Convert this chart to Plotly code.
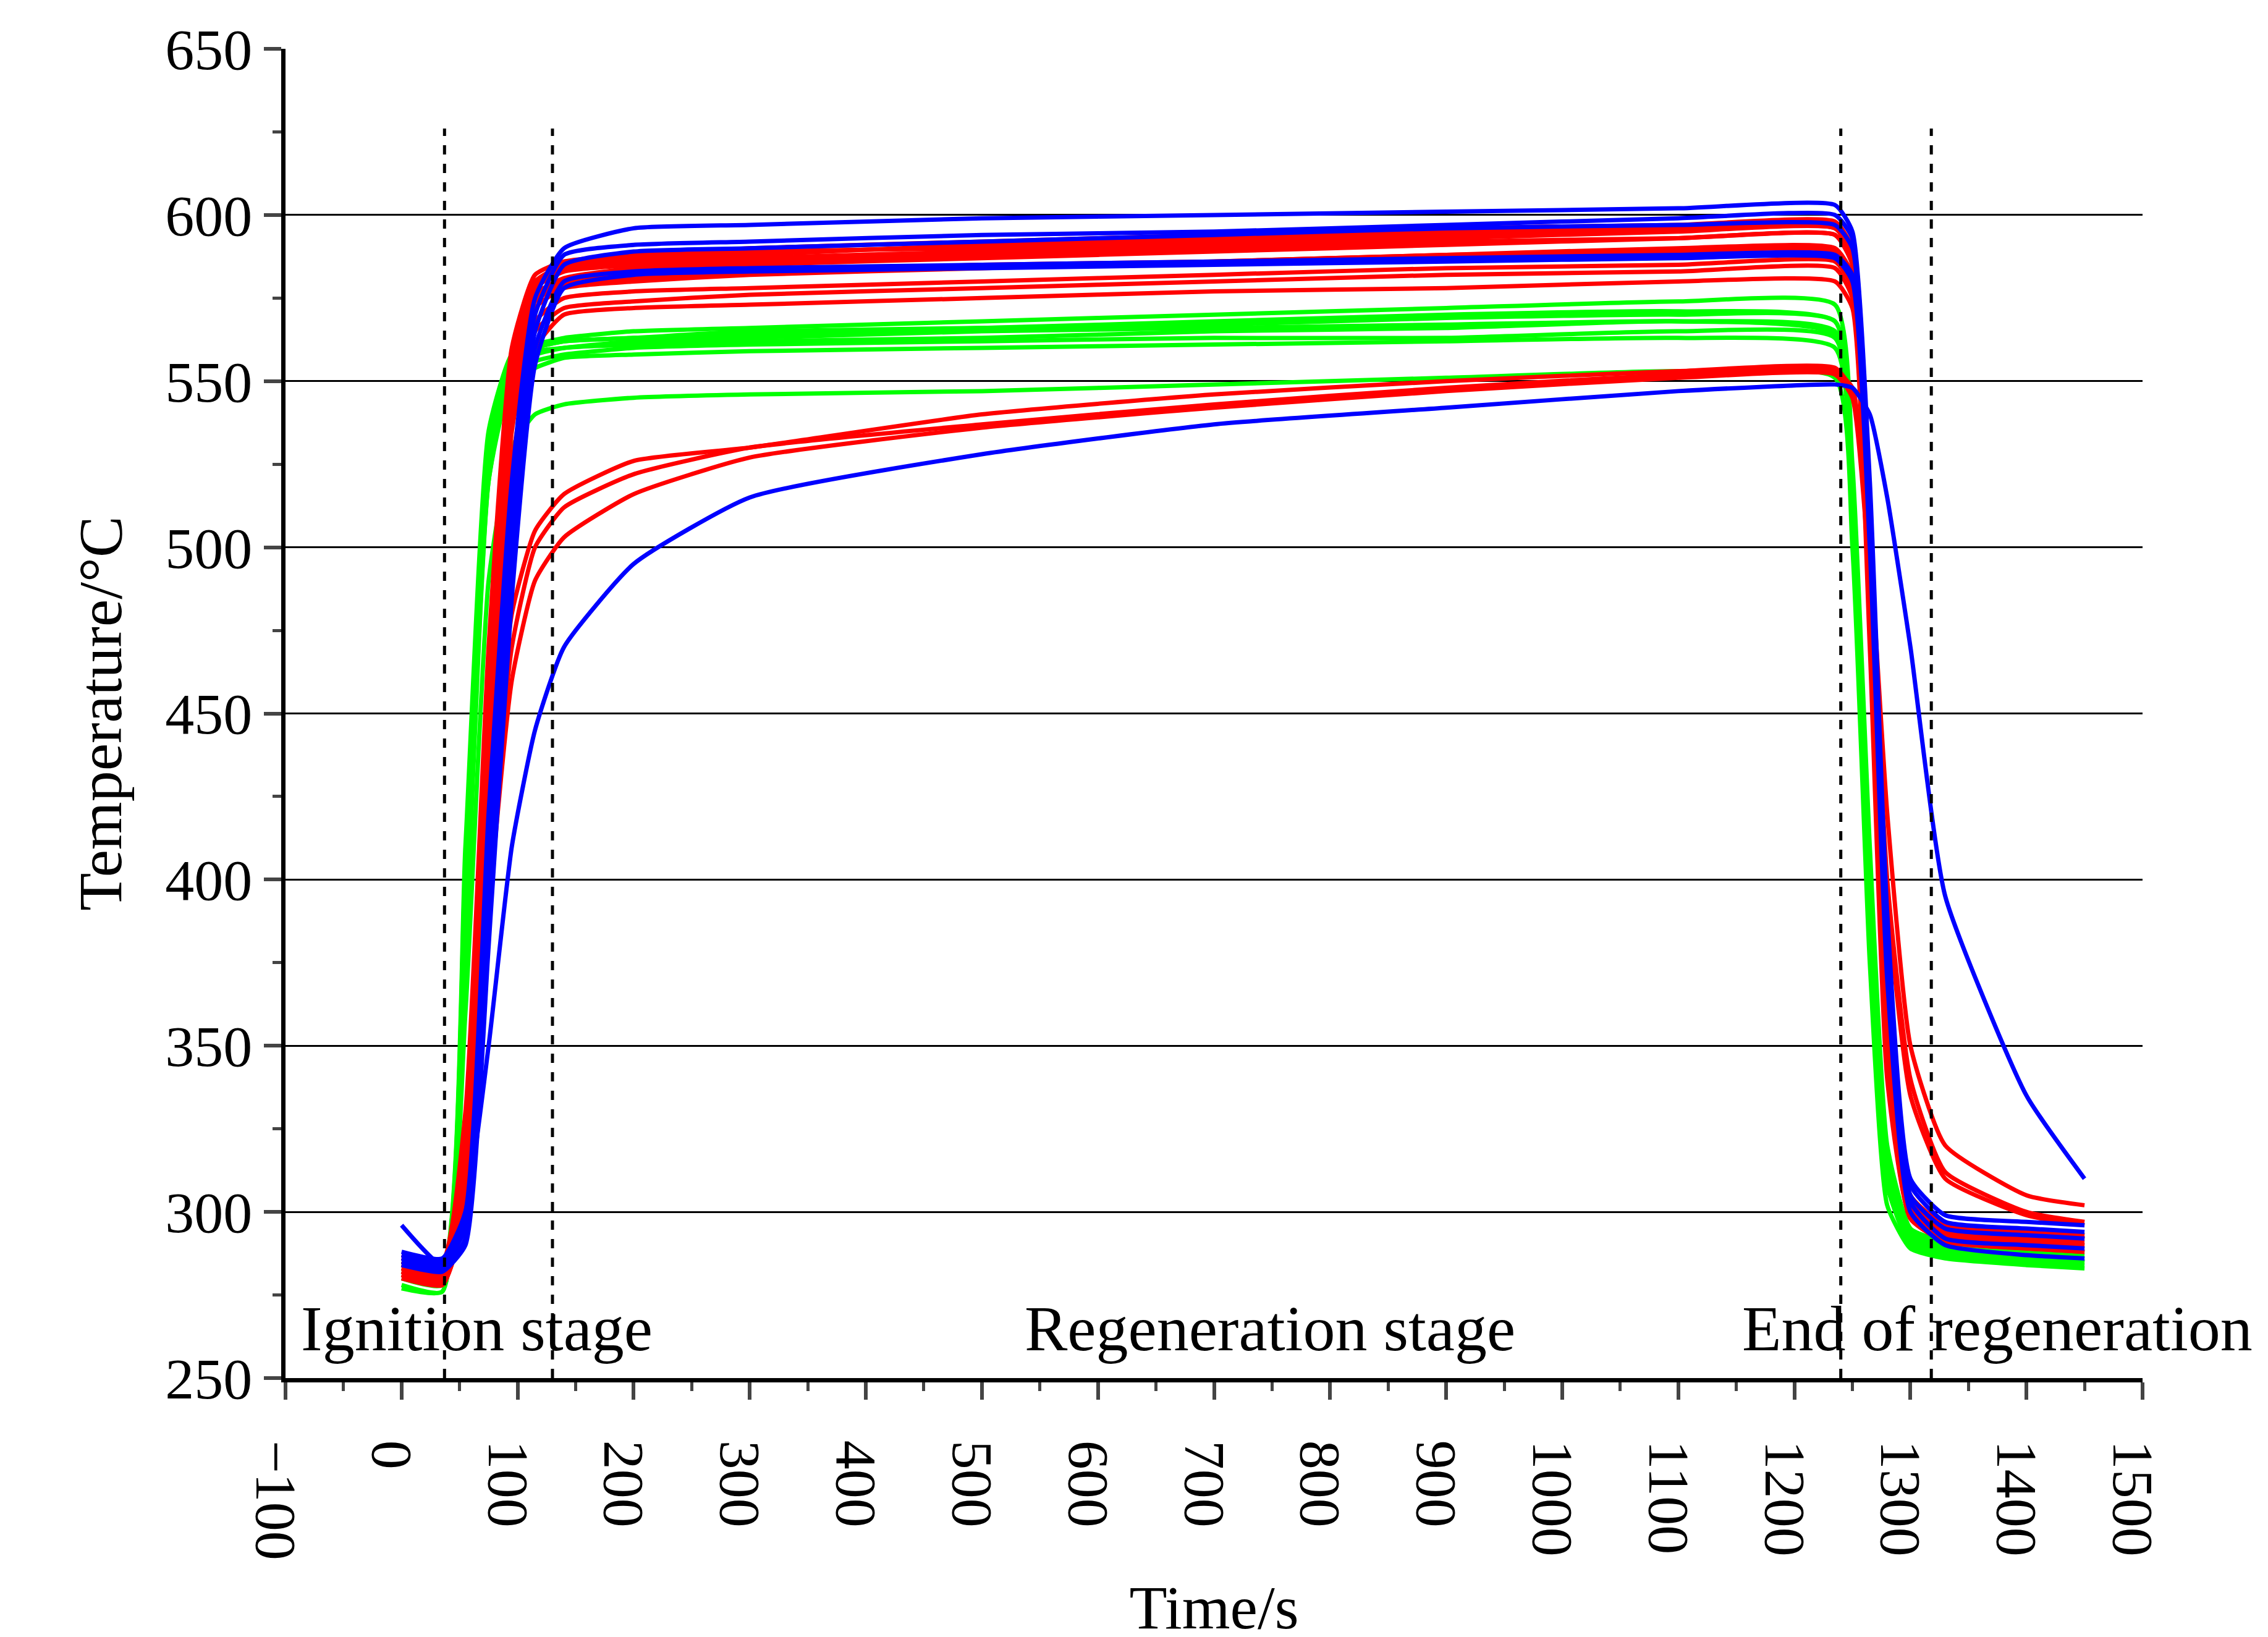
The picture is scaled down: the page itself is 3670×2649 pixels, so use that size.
import plotly.graph_objects as go

T = [0, 35, 55, 75, 95, 115, 140, 200, 300, 500, 700, 900, 1100, 1235, 1250, 1265, 1280, 1300, 1330, 1400, 1450]

green = [
    [283, 281, 400, 530, 556, 560, 562, 563, 564, 566, 567, 569, 570, 568, 520, 400, 315, 293, 289, 287, 286],
    [280, 278, 390, 525, 555, 559, 560, 562, 563, 565, 566, 567, 568, 565, 515, 390, 310, 292, 288, 286, 285],
    [285, 283, 410, 535, 558, 561, 563, 565, 566, 568, 570, 572, 574, 573, 525, 410, 320, 295, 291, 289, 288],
    [278, 276, 380, 520, 552, 556, 558, 560, 561, 562, 563, 563, 565, 563, 510, 385, 308, 290, 287, 285, 284],
    [282, 280, 395, 528, 554, 558, 560, 561, 562, 563, 565, 566, 568, 564, 515, 395, 313, 292, 288, 286, 285],
    [284, 282, 405, 532, 557, 560, 562, 563, 565, 566, 568, 570, 571, 568, 520, 405, 318, 294, 290, 288, 287],
    [281, 279, 385, 520, 550, 554, 557, 558, 559, 560, 561, 562, 563, 560, 510, 385, 308, 291, 288, 286, 285],
    [277, 276, 360, 490, 530, 540, 543, 545, 546, 547, 549, 551, 553, 551, 500, 375, 302, 289, 286, 284, 283],
]

red = [
    [287, 285, 330, 470, 560, 582, 586, 588, 590, 592, 594, 596, 597, 598, 590, 500, 360, 305, 296, 294, 293],
    [285, 283, 320, 460, 555, 578, 583, 585, 587, 589, 591, 593, 595, 596, 588, 495, 355, 303, 295, 293, 292],
    [283, 281, 315, 450, 550, 575, 580, 583, 585, 587, 589, 591, 593, 594, 585, 490, 352, 302, 294, 292, 291],
    [286, 284, 325, 465, 558, 580, 585, 587, 589, 590, 592, 594, 596, 597, 590, 498, 358, 304, 296, 294, 293],
    [282, 280, 310, 445, 545, 572, 578, 580, 582, 584, 586, 588, 590, 590, 582, 485, 350, 301, 293, 291, 290],
    [284, 282, 318, 455, 552, 574, 579, 581, 583, 585, 586, 588, 589, 589, 580, 480, 348, 300, 293, 291, 290],
    [281, 279, 305, 440, 540, 568, 575, 577, 578, 580, 582, 584, 585, 586, 578, 478, 345, 299, 292, 290, 289],
    [280, 278, 300, 430, 535, 565, 572, 574, 576, 578, 580, 582, 583, 584, 575, 475, 343, 298, 291, 289, 288],
    [283, 281, 300, 420, 525, 560, 570, 572, 573, 575, 577, 578, 580, 580, 572, 470, 340, 298, 291, 289, 288],
    [285, 283, 312, 448, 548, 576, 581, 584, 586, 588, 590, 592, 593, 594, 586, 492, 354, 303, 295, 293, 292],
    [282, 279, 300, 400, 470, 500, 512, 522, 530, 537, 543, 548, 552, 553, 548, 500, 420, 350, 320, 305, 302],
    [284, 281, 305, 410, 480, 505, 516, 526, 530, 540, 546, 550, 553, 554, 547, 495, 400, 340, 312, 300, 297],
    [281, 278, 300, 390, 460, 490, 503, 516, 527, 536, 542, 547, 551, 552, 545, 490, 395, 335, 310, 299, 296],
    [286, 284, 322, 460, 556, 579, 584, 586, 588, 591, 593, 595, 596, 596, 588, 496, 356, 303, 295, 293, 292],
]

blue = [
    [288, 286, 300, 420, 520, 575, 590, 596, 597, 599, 600, 601, 602, 603, 595, 520, 390, 310, 299, 297, 296],
    [287, 285, 298, 410, 510, 570, 588, 591, 592, 594, 595, 597, 599, 600, 593, 515, 385, 308, 297, 295, 294],
    [286, 284, 295, 400, 500, 565, 585, 589, 590, 592, 594, 596, 597, 597, 590, 510, 380, 305, 295, 293, 292],
    [285, 283, 292, 390, 490, 560, 580, 583, 584, 585, 586, 587, 588, 588, 582, 505, 375, 303, 292, 290, 289],
    [284, 282, 290, 380, 485, 555, 578, 582, 583, 584, 585, 586, 587, 587, 580, 500, 370, 300, 290, 287, 286],
    [296, 284, 300, 350, 410, 445, 470, 495, 515, 528, 537, 542, 547, 549, 548, 540, 515, 470, 395, 335, 310],
]

fig = go.Figure()
for vals in green:
    fig.add_trace(go.Scatter(x=T, y=vals, mode="lines", line=dict(color="#00ff00", width=7, shape="spline", smoothing=0.5), showlegend=False))
for vals in red:
    fig.add_trace(go.Scatter(x=T, y=vals, mode="lines", line=dict(color="#ff0000", width=7, shape="spline", smoothing=0.5), showlegend=False))
for vals in blue:
    fig.add_trace(go.Scatter(x=T, y=vals, mode="lines", line=dict(color="#0000ff", width=7, shape="spline", smoothing=0.5), showlegend=False))

for xv in [37, 130, 1240, 1318]:
    fig.add_shape(type="line", x0=xv, x1=xv, y0=250, y1=626, xref="x", yref="y",
                  line=dict(color="black", width=5, dash="dash"))

font = "Liberation Serif, Times New Roman, serif"
for txt, xv in [("Ignition stage", 65), ("Regeneration stage", 748), ("End of regeneration", 1375)]:
    fig.add_annotation(x=xv, y=265, text=txt, showarrow=False, font=dict(family=font, size=104, color="black"))

fig.update_layout(
    width=3670, height=2649, plot_bgcolor="white", paper_bgcolor="white",
    margin=dict(l=454, r=211, t=71, b=355),
    font=dict(family=font, size=94, color="black"),
)
fig.update_xaxes(range=[-100, 1500], dtick=100, showgrid=False, zeroline=False,
                 showline=True, linecolor="black", linewidth=7, ticks="outside", ticklen=28, tickwidth=6,
                 minor=dict(dtick=50, ticks="outside", ticklen=14, tickwidth=5),
                 title=dict(text="Time/s", font=dict(size=100), standoff=50))
fig.update_yaxes(range=[250, 650], dtick=50, showgrid=True, gridcolor="black", gridwidth=3, zeroline=False,
                 showline=True, linecolor="black", linewidth=7, ticks="outside", ticklen=28, tickwidth=6,
                 minor=dict(dtick=25, ticks="outside", ticklen=14, tickwidth=5, showgrid=False),
                 title=dict(text="Temperature/°C", font=dict(size=100), standoff=40))
fig.write_html("out.html")
